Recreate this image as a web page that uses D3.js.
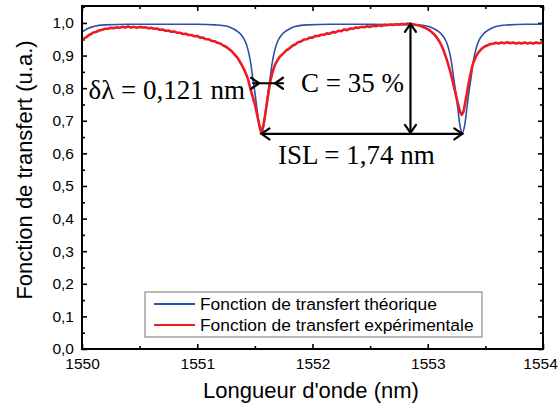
<!DOCTYPE html>
<html><head><meta charset="utf-8">
<script src="https://cdn.jsdelivr.net/npm/d3@7"></script>
<style>body{margin:0;background:#fff}svg{display:block}</style>
</head><body>
<svg id="c" width="558" height="408"></svg>
<script>
// ---- data ----
const xTicks = [1550, 1551, 1552, 1553, 1554];
const xTickLabels = ["1550", "1551", "1552", "1553", "1554"];
const xMinorTicks = [1550.5, 1551.5, 1552.5, 1553.5];
const yTicks = [0, 0.1, 0.2, 0.3, 0.4, 0.5, 0.6, 0.7, 0.8, 0.9, 1.0];
const yTickLabels = ["0,0","0,1","0,2","0,3","0,4","0,5","0,6","0,7","0,8","0,9","1,0"];
const yMinorTicks = [0.05,0.15,0.25,0.35,0.45,0.55,0.65,0.75,0.85,0.95,1.05];
const seriesNames = ["Fonction de transfert théorique", "Fonction de transfert expérimentale"];

const theoWavelength = [1550.00,1550.05,1550.10,1550.20,1550.40,1550.80,1551.00,1551.157,1551.257,1551.307,1551.357,1551.387,1551.417,1551.437,1551.452,1551.467,1551.482,1551.497,1551.517,1551.537,1551.557,1551.577,1551.597,1551.617,1551.632,1551.647,1551.662,1551.677,1551.697,1551.727,1551.757,1551.807,1551.857,1551.957,1552.157,1552.50,1552.90,1553.00,1553.05,1553.10,1553.13,1553.16,1553.18,1553.195,1553.21,1553.225,1553.24,1553.26,1553.28,1553.30,1553.32,1553.34,1553.36,1553.375,1553.39,1553.405,1553.42,1553.44,1553.47,1553.50,1553.55,1553.60,1553.70,1553.85,1554.00];
const theoTransfer = [0.972,0.983,0.989,0.994,0.996,0.996,0.996,0.994,0.990,0.983,0.972,0.961,0.943,0.922,0.900,0.870,0.830,0.795,0.740,0.685,0.663,0.685,0.740,0.795,0.830,0.870,0.900,0.922,0.943,0.961,0.972,0.983,0.990,0.994,0.996,0.996,0.994,0.990,0.983,0.972,0.961,0.943,0.922,0.900,0.870,0.830,0.795,0.740,0.685,0.663,0.685,0.740,0.795,0.830,0.870,0.900,0.922,0.943,0.961,0.972,0.983,0.990,0.994,0.996,0.996];

const expWavelength = [1550.000,1550.020,1550.040,1550.060,1550.080,1550.100,1550.125,1550.150,1550.175,1550.200,1550.225,1550.250,1550.275,1550.300,1550.325,1550.350,1550.375,1550.400,1550.425,1550.450,1550.475,1550.500,1550.525,1550.550,1550.575,1550.600,1550.625,1550.650,1550.675,1550.700,1550.725,1550.750,1550.775,1550.800,1550.825,1550.850,1550.875,1550.900,1550.925,1550.950,1550.975,1551.000,1551.025,1551.050,1551.075,1551.100,1551.125,1551.150,1551.175,1551.200,1551.225,1551.250,1551.275,1551.300,1551.325,1551.350,1551.375,1551.400,1551.420,1551.440,1551.460,1551.480,1551.500,1551.520,1551.540,1551.557,1551.575,1551.590,1551.605,1551.620,1551.635,1551.650,1551.665,1551.680,1551.700,1551.720,1551.745,1551.770,1551.800,1551.825,1551.850,1551.875,1551.900,1551.925,1551.950,1551.975,1552.000,1552.025,1552.050,1552.075,1552.100,1552.125,1552.150,1552.175,1552.200,1552.225,1552.250,1552.275,1552.300,1552.325,1552.350,1552.375,1552.400,1552.425,1552.450,1552.475,1552.500,1552.525,1552.550,1552.575,1552.600,1552.625,1552.650,1552.675,1552.700,1552.725,1552.750,1552.775,1552.800,1552.825,1552.850,1552.875,1552.900,1552.925,1552.950,1552.975,1553.000,1553.025,1553.050,1553.075,1553.100,1553.120,1553.140,1553.160,1553.180,1553.200,1553.220,1553.240,1553.260,1553.280,1553.295,1553.310,1553.325,1553.340,1553.355,1553.370,1553.385,1553.400,1553.420,1553.440,1553.465,1553.490,1553.515,1553.540,1553.565,1553.590,1553.615,1553.640,1553.665,1553.690,1553.715,1553.740,1553.765,1553.790,1553.815,1553.840,1553.865,1553.890,1553.915,1553.940,1553.965,1553.990,1554.000];
const expTransfer = [0.946,0.953,0.957,0.963,0.966,0.971,0.973,0.977,0.979,0.982,0.982,0.985,0.984,0.987,0.985,0.988,0.986,0.989,0.986,0.988,0.985,0.988,0.986,0.987,0.984,0.985,0.982,0.983,0.979,0.980,0.976,0.977,0.973,0.974,0.970,0.970,0.966,0.967,0.963,0.963,0.959,0.960,0.955,0.955,0.950,0.950,0.945,0.944,0.939,0.937,0.931,0.927,0.920,0.913,0.903,0.893,0.878,0.862,0.847,0.828,0.800,0.775,0.750,0.718,0.685,0.662,0.688,0.720,0.755,0.790,0.822,0.845,0.862,0.876,0.888,0.898,0.906,0.915,0.922,0.930,0.934,0.941,0.943,0.949,0.950,0.955,0.955,0.960,0.960,0.964,0.964,0.968,0.967,0.972,0.971,0.976,0.975,0.980,0.978,0.983,0.982,0.986,0.985,0.988,0.987,0.990,0.988,0.991,0.990,0.993,0.991,0.994,0.993,0.995,0.994,0.996,0.995,0.997,0.996,0.998,0.997,0.996,0.994,0.992,0.989,0.985,0.981,0.975,0.967,0.957,0.944,0.930,0.913,0.893,0.870,0.845,0.815,0.785,0.755,0.728,0.718,0.728,0.755,0.785,0.815,0.842,0.866,0.882,0.898,0.910,0.920,0.927,0.931,0.935,0.936,0.939,0.937,0.940,0.938,0.941,0.938,0.940,0.937,0.939,0.937,0.940,0.937,0.939,0.937,0.940,0.938,0.940,0.939];

// annotations (data units)
const deltaLambda = {label: "δλ = 0,121 nm", level: 0.815, from: 1551.537, to: 1551.675};
const contrast = {label: "C = 35 %", x: 1552.85, top: 0.997, bottom: 0.663};
const isl = {label: "ISL = 1,74 nm", level: 0.663, from: 1551.557, to: 1553.30};

// ---- drawing ----
const svg = d3.select("#c");
const L = 82, R = 543, T = 6, B = 349;
const x = d3.scaleLinear().domain([1550, 1554]).range([L, R]);
const y = d3.scaleLinear().domain([0, 1.052]).range([B, T]);
const tickFont = "Liberation Sans, Arial, sans-serif";

function styleAxis(g) {
  g.select(".domain").remove();
  g.selectAll("line").attr("stroke", "#000").attr("stroke-width", 1.6);
  g.selectAll("text").attr("font-family", tickFont).attr("font-size", 15.5).attr("fill", "#000");
}
// major + minor ticks, inward
const xAxisG = svg.append("g").attr("transform", `translate(0,${B})`)
  .call(d3.axisBottom(x).tickValues(xTicks).tickSize(-5).tickPadding(9).tickFormat((d,i)=>xTickLabels[i])).call(styleAxis);
xAxisG.selectAll(".tick").filter(d => d === 1554).select("text").attr("dx", -3);
svg.append("g").attr("transform", `translate(0,${B})`)
  .call(d3.axisBottom(x).tickValues(xMinorTicks).tickSize(-3).tickFormat("")).call(styleAxis);
svg.append("g").attr("transform", `translate(0,${T})`)
  .call(d3.axisTop(x).tickValues(xTicks).tickSize(-5).tickFormat("")).call(styleAxis);
svg.append("g").attr("transform", `translate(0,${T})`)
  .call(d3.axisTop(x).tickValues(xMinorTicks).tickSize(-3).tickFormat("")).call(styleAxis);
svg.append("g").attr("transform", `translate(${L},0)`)
  .call(d3.axisLeft(y).tickValues(yTicks).tickSize(-5).tickPadding(8).tickFormat((d,i)=>yTickLabels[i])).call(styleAxis);
svg.append("g").attr("transform", `translate(${L},0)`)
  .call(d3.axisLeft(y).tickValues(yMinorTicks).tickSize(-3).tickFormat("")).call(styleAxis);
svg.append("g").attr("transform", `translate(${R},0)`)
  .call(d3.axisRight(y).tickValues(yTicks).tickSize(-5).tickFormat("")).call(styleAxis);
svg.append("g").attr("transform", `translate(${R},0)`)
  .call(d3.axisRight(y).tickValues(yMinorTicks).tickSize(-3).tickFormat("")).call(styleAxis);

// clip
svg.append("clipPath").attr("id", "clip").append("rect").attr("x", L).attr("y", T).attr("width", R-L).attr("height", B-T);

const theo = theoWavelength.map((w,i)=>[w, theoTransfer[i]]);
const exp = expWavelength.map((w,i)=>[w, expTransfer[i]]);
const lineSmooth = d3.line().x(d=>x(d[0])).y(d=>y(d[1])).curve(d3.curveMonotoneX);
const lineRaw = d3.line().x(d=>x(d[0])).y(d=>y(d[1]));

const plot = svg.append("g").attr("clip-path", "url(#clip)");
plot.append("path").attr("d", lineSmooth(theo)).attr("fill", "none").attr("stroke", "#2f4fa6").attr("stroke-width", 1.6);
plot.append("path").attr("d", lineRaw(exp)).attr("fill", "none").attr("stroke", "#ec1c24").attr("stroke-width", 2.6).attr("stroke-linejoin", "round");

// frame
svg.append("rect").attr("x", L).attr("y", T).attr("width", R-L).attr("height", B-T)
  .attr("fill", "none").attr("stroke", "#000").attr("stroke-width", 2);

// arrows
const ann = svg.append("g").attr("stroke", "#000").attr("stroke-width", 2.2).attr("fill", "none").attr("stroke-linecap", "round");
function head(px, py, dir) {
  const a = 8, b = 5.5;
  let p;
  if (dir === 'r') p = [[px-a, py-b],[px,py],[px-a, py+b]];
  if (dir === 'l') p = [[px+a, py-b],[px,py],[px+a, py+b]];
  if (dir === 'u') p = [[px-b, py+a],[px,py],[px+b, py+a]];
  if (dir === 'd') p = [[px-b, py-a],[px,py],[px+b, py-a]];
  ann.append("path").attr("d", d3.line()(p));
}
const dlY = y(deltaLambda.level);
ann.append("line").attr("x1", x(deltaLambda.from)-6).attr("x2", x(deltaLambda.to)+8).attr("y1", dlY).attr("y2", dlY);
head(x(deltaLambda.from), dlY, 'r');
head(x(deltaLambda.to), dlY, 'l');
ann.append("line").attr("x1", x(contrast.x)).attr("x2", x(contrast.x)).attr("y1", y(contrast.top)).attr("y2", y(contrast.bottom));
head(x(contrast.x), y(contrast.top), 'u');
head(x(contrast.x), y(contrast.bottom), 'd');
const islY = y(isl.level) + 1;
ann.append("line").attr("x1", x(isl.from)).attr("x2", x(isl.to)).attr("y1", islY).attr("y2", islY);
head(x(isl.from), islY, 'l');
head(x(isl.to), islY, 'r');

const serif = "Liberation Serif, Times New Roman, serif";
svg.append("text").attr("x", 245).attr("y", 99).attr("text-anchor", "end").attr("font-family", serif).attr("font-size", 27).text(deltaLambda.label);
svg.append("text").attr("x", 301).attr("y", 92).attr("font-family", serif).attr("font-size", 27).text(contrast.label);
svg.append("text").attr("x", 278).attr("y", 164).attr("font-family", serif).attr("font-size", 27).text(isl.label);

// legend
const lg = svg.append("g");
lg.append("rect").attr("x", 145).attr("y", 292).attr("width", 337).attr("height", 45).attr("fill", "#fff").attr("stroke", "#777").attr("stroke-width", 1);
const legColors = ["#2f4fa6", "#ec1c24"];
seriesNames.forEach((n, i) => {
  const yy = 304 + i * 21;
  lg.append("line").attr("x1", 154).attr("x2", 195).attr("y1", yy).attr("y2", yy).attr("stroke", legColors[i]).attr("stroke-width", 2);
  lg.append("text").attr("x", 200).attr("y", yy + 6).attr("font-family", tickFont).attr("font-size", 17.4).text(n);
});

// axis titles
svg.append("text").attr("x", 311).attr("y", 398).attr("text-anchor", "middle").attr("font-family", tickFont).attr("font-size", 22).text("Longueur d'onde (nm)");
svg.append("text").attr("transform", "translate(32,170) rotate(-90)").attr("text-anchor", "middle").attr("font-family", tickFont).attr("font-size", 22).text("Fonction de transfert (u.a.)");
</script>
</body></html>
